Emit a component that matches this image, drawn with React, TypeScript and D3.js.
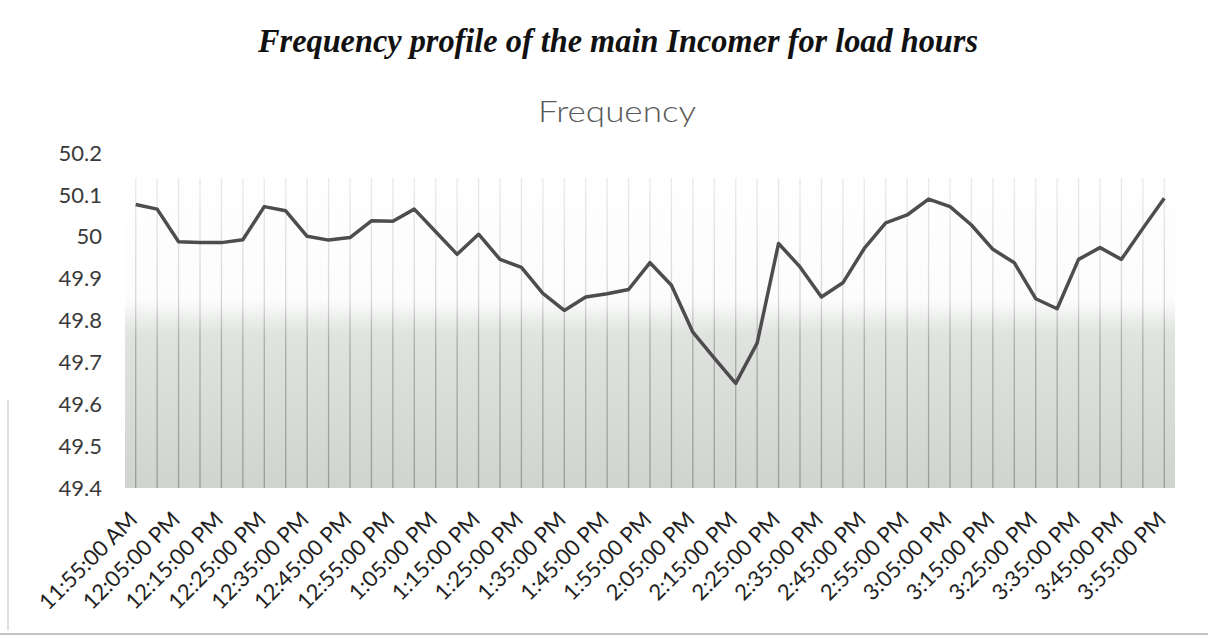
import React from 'react';
import * as d3 from 'd3';

// time stamps of the readings (5 min interval)
const times = [
    '11:55:00 AM', '12:00:00 PM', '12:05:00 PM', '12:10:00 PM', '12:15:00 PM', '12:20:00 PM',
    '12:25:00 PM', '12:30:00 PM', '12:35:00 PM', '12:40:00 PM', '12:45:00 PM', '12:50:00 PM',
    '12:55:00 PM', '1:00:00 PM', '1:05:00 PM', '1:10:00 PM', '1:15:00 PM', '1:20:00 PM',
    '1:25:00 PM', '1:30:00 PM', '1:35:00 PM', '1:40:00 PM', '1:45:00 PM', '1:50:00 PM',
    '1:55:00 PM', '2:00:00 PM', '2:05:00 PM', '2:10:00 PM', '2:15:00 PM', '2:20:00 PM',
    '2:25:00 PM', '2:30:00 PM', '2:35:00 PM', '2:40:00 PM', '2:45:00 PM', '2:50:00 PM',
    '2:55:00 PM', '3:00:00 PM', '3:05:00 PM', '3:10:00 PM', '3:15:00 PM', '3:20:00 PM',
    '3:25:00 PM', '3:30:00 PM', '3:35:00 PM', '3:40:00 PM', '3:45:00 PM', '3:50:00 PM',
    '3:55:00 PM',
];

// frequency in Hz
const frequency = [
    50.077, 50.066, 49.988, 49.986, 49.986, 49.993,
    50.072, 50.062, 50.001, 49.992, 49.998, 50.038,
    50.037, 50.066, 50.012, 49.958, 50.006, 49.946,
    49.927, 49.865, 49.824, 49.856, 49.864, 49.874,
    49.938, 49.884, 49.772, 49.71, 49.65, 49.746,
    49.984, 49.928, 49.856, 49.89, 49.972, 50.033,
    50.052, 50.09, 50.072, 50.028, 49.97, 49.938,
    49.852, 49.828, 49.946, 49.974, 49.946, 50.02,
    50.092,
];

const yTicks = [49.4, 49.5, 49.6, 49.7, 49.8, 49.9, 50, 50.1, 50.2];

const W = 1208;
const H = 644;
const plot = {left: 125, right: 1175, top: 153, bottom: 488};

const App = () => {
    const x = d3.scaleBand<string>()
        .domain(times)
        .range([plot.left, plot.right]);
    const y = d3.scaleLinear()
        .domain([49.4, 50.2])
        .range([plot.bottom, plot.top]);

    const cx = (t: string) => (x(t) ?? 0) + x.bandwidth() / 2;

    const line = d3.line<number>()
        .x((_, i) => cx(times[i]))
        .y(d => y(d));

    // every second time gets a label
    const labelled = times.filter((_, i) => i % 2 === 0);

    const font = 'Lato, "Open Sans", sans-serif';

    return (
        <svg width={W} height={H} style={{position: 'absolute', left: 0, top: 0, background: '#fff'}}>
            <defs>
                <linearGradient id="bg" gradientUnits="userSpaceOnUse" x1={0} y1={plot.top} x2={0} y2={plot.bottom}>
                    <stop offset="0" stopColor="#ffffff"/>
                    <stop offset="0.44" stopColor="#fbfcfb"/>
                    <stop offset="0.54" stopColor="#e0e3e0"/>
                    <stop offset="1" stopColor="#d0d3d0"/>
                </linearGradient>
                <linearGradient id="grid" gradientUnits="userSpaceOnUse" x1={0} y1={plot.top} x2={0} y2={plot.bottom}>
                    <stop offset="0" stopColor="#eeeeee"/>
                    <stop offset="0.44" stopColor="#d6d6d6"/>
                    <stop offset="0.56" stopColor="#a9aca9"/>
                    <stop offset="1" stopColor="#989b98"/>
                </linearGradient>
            </defs>

            {/* main heading */}
            <text x={618} y={52} textAnchor="middle" fontFamily='"Liberation Serif", "Times New Roman", serif'
                  fontWeight="bold" fontStyle="italic" fontSize={34} fill="#111"
                  textLength={720} lengthAdjust="spacingAndGlyphs">
                Frequency profile of the main Incomer for load hours
            </text>

            {/* chart title */}
            <text x={617} y={122} textAnchor="middle" fontFamily={font} fontWeight={300} fontSize={30} fill="#595959"
                  textLength={158} lengthAdjust="spacingAndGlyphs">
                Frequency
            </text>

            {/* plot area */}
            <rect x={plot.left} y={plot.top + 20} width={plot.right - plot.left} height={plot.bottom - plot.top - 20}
                  fill="url(#bg)"/>

            {times.map(t => (
                <line key={t} x1={cx(t)} x2={cx(t)} y1={plot.top + 25} y2={plot.bottom}
                      stroke="url(#grid)" strokeWidth={1.3}/>
            ))}

            <path d={line(frequency)!} fill="none" stroke="#4d4d4d" strokeWidth={3.5} strokeLinejoin="round"/>

            {/* y axis labels */}
            {yTicks.map(v => (
                <text key={v} x={102} y={y(v)} dy="0.35em" textAnchor="end" fontFamily={font}
                      fontSize={22} fill="#3a3a3a">
                    {v}
                </text>
            ))}

            {/* x axis labels */}
            {labelled.map(t => (
                <text key={t} transform={`translate(${cx(t) + 3}, 521) rotate(-45)`} textAnchor="end"
                      fontFamily={font} fontSize={22} fill="#222">
                    {t}
                </text>
            ))}

            {/* scan border */}
            <line x1={8} x2={8} y1={400} y2={630} stroke="#d4d4d4" strokeWidth={1.5}/>
            <line x1={0} x2={W} y1={634} y2={634} stroke="#c4c4c4" strokeWidth={2}/>
        </svg>
    );
};

export default App;
